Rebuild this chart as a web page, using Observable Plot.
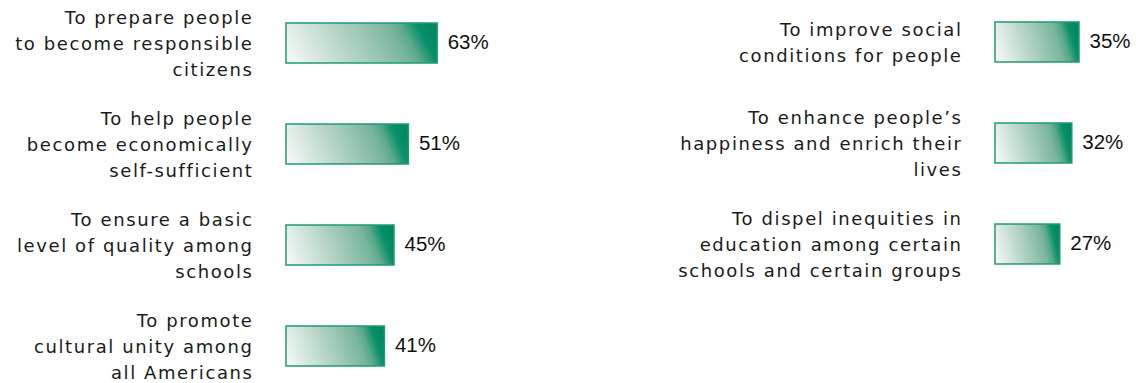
<!DOCTYPE html>
<html><head><meta charset="utf-8">
<script src="https://cdn.jsdelivr.net/npm/d3@7"></script>
<script src="https://cdn.jsdelivr.net/npm/@observablehq/plot@0.6"></script>
<style>
body{margin:0;background:#fff}
#chart{position:relative;width:1136px;height:383px}
#chart svg{position:absolute;top:0;overflow:visible}
g[font-family="DejaVu Sans"]{letter-spacing:1.6px}
</style></head><body><div id="chart"></div>
<script>
const leftLabels = [
  "To prepare people\nto become responsible\ncitizens",
  "To help people\nbecome economically\nself-sufficient",
  "To ensure a basic\nlevel of quality among\nschools",
  "To promote\ncultural unity among\nall Americans"
];
const leftValues = [63, 51, 45, 41];
const rightLabels = [
  "To improve social\nconditions for people",
  "To enhance people’s\nhappiness and enrich their\nlives",
  "To dispel inequities in\neducation among certain\nschools and certain groups"
];
const rightValues = [35, 32, 27];

const stops = [
  [0, "#f2f5f3"], [0.25, "#c9e0d5"], [0.5, "#a2cab8"], [0.74, "#79b59c"],
  [0.82, "#5aa98a"], [0.87, "#2f9c79"], [0.92, "#0a8f6a"], [1, "#008960"]
];

function gradientMark(id) {
  return () => {
    const defs = d3.create("svg:defs");
    const g = defs.append("linearGradient").attr("id", id)
      .attr("x1", 0).attr("y1", 0.57).attr("x2", 1).attr("y2", 0.43);
    for (const [o, c] of stops) g.append("stop").attr("offset", o).attr("stop-color", c);
    return defs.node();
  };
}

function panel(labels, values, id, opts) {
  const data = labels.map((l, i) => ({label: l, value: values[i]}));
  return Plot.plot({
    width: opts.width, height: 383,
    marginLeft: opts.marginLeft, marginRight: opts.marginRight,
    marginTop: opts.marginTop, marginBottom: opts.marginBottom,
    x: {domain: [0, 55], axis: null},
    y: {domain: labels, axis: null, paddingInner: 0.6, paddingOuter: 0.082, align: 0},
    style: {background: "transparent"},
    marks: [
      gradientMark(id),
      Plot.barX(data, {x: "value", y: "label", fill: `url(#${id})`, stroke: "#1f9a77", strokeWidth: 1.5}),
      Plot.text(data, {y: "label", text: "label", frameAnchor: "left", textAnchor: "end", dx: -33, dy: -2,
        fontFamily: "DejaVu Sans", fontSize: 18, lineHeight: 1.47, fill: "#1a1a1a"}),
      Plot.text(data, {x: "value", y: "label", text: d => d.value + "%", textAnchor: "start", dx: 10, dy: -1,
        fontFamily: "Liberation Sans", fontSize: 20.5, fill: "#111"})
    ]
  });
}

const chart = document.getElementById("chart");
const left = panel(leftLabels, leftValues, "gradL", {width: 660, marginLeft: 286, marginRight: 242, marginTop: 23, marginBottom: 0});
left.style.left = "0px";
const right = panel(rightLabels, rightValues, "gradR", {width: 476, marginLeft: 335, marginRight: 9, marginTop: 22, marginBottom: 101});
right.style.left = "660px";
chart.append(left, right);
</script></body></html>
